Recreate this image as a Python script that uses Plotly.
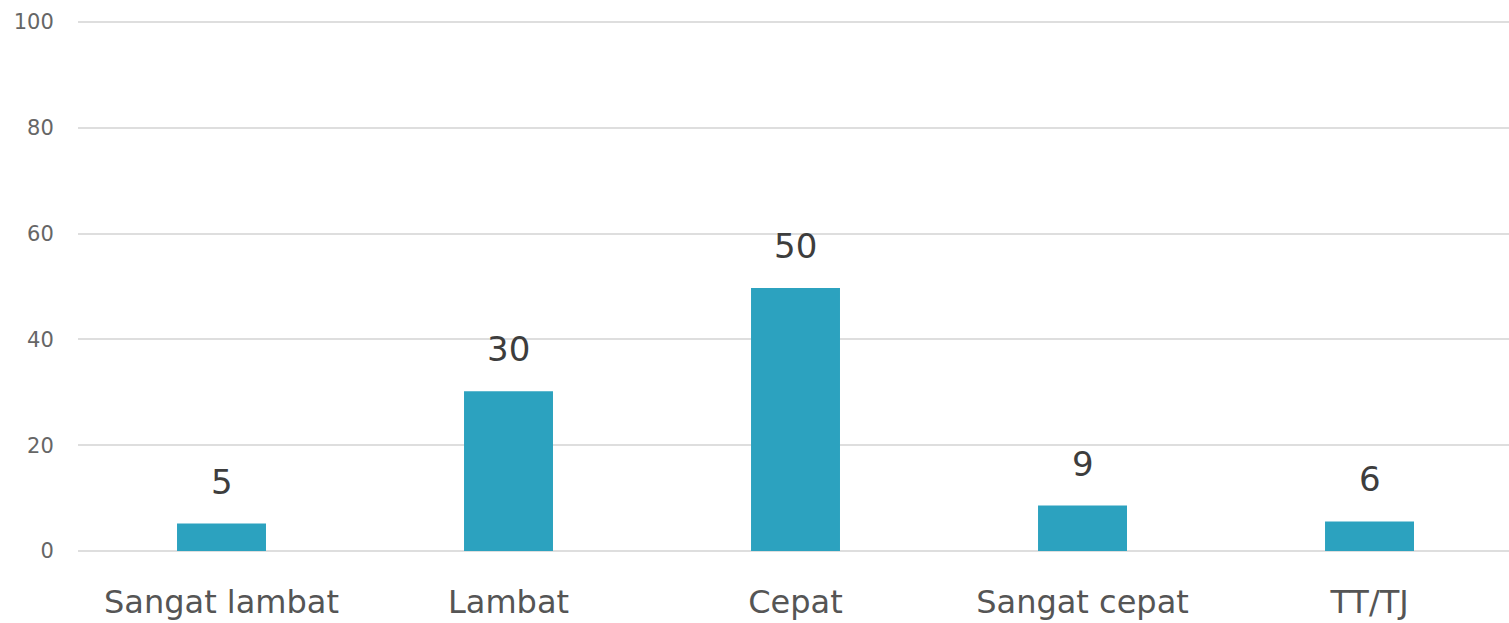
import plotly.graph_objects as go

categories = ["Sangat lambat", "Lambat", "Cepat", "Sangat cepat", "TT/TJ"]
values = [5.2, 30.2, 49.7, 8.6, 5.6]
y_ticks = [0, 20, 40, 60, 80, 100]

BAR_COLOR = "#2ca2bf"
FONT = "DejaVu Sans"

fig = go.Figure()
fig.add_trace(go.Bar(
    x=categories,
    y=values,
    marker=dict(color=BAR_COLOR, line=dict(width=0)),
    width=0.31,
    hoverinfo="x+y",
))

for c, v in zip(categories, values):
    fig.add_annotation(
        x=c, y=v, text=f"{v:.0f}", showarrow=False,
        yanchor="bottom", yshift=20,
        font=dict(family=FONT, size=34, color="#3d3d3d"),
    )

fig.update_layout(
    width=1509, height=623,
    margin=dict(l=78, r=0, t=21, b=72),
    plot_bgcolor="white", paper_bgcolor="white",
    showlegend=False,
    xaxis=dict(
        type="category",
        range=[-0.5, 4.486],
        automargin=False,
        showgrid=False, zeroline=False, showline=False,
        ticks="outside", ticklen=23, tickcolor="rgba(0,0,0,0)",
        tickfont=dict(family=FONT, size=32, color="#555555"),
        fixedrange=True,
    ),
    yaxis=dict(
        range=[0, 100.2],
        automargin=False,
        tickvals=y_ticks,
        ticktext=[str(t) for t in y_ticks],
        showgrid=True, gridcolor="#dedede", gridwidth=2,
        zeroline=True, zerolinecolor="#dedede", zerolinewidth=2,
        showline=False,
        ticks="outside", ticklen=19, tickcolor="rgba(0,0,0,0)",
        tickfont=dict(family=FONT, size=21, color="#666666"),
        fixedrange=True,
    ),
)

fig.write_html(
    "out.html",
    config={"displayModeBar": False},
    post_script="document.body.style.margin='0';document.body.style.overflow='hidden';",
)
